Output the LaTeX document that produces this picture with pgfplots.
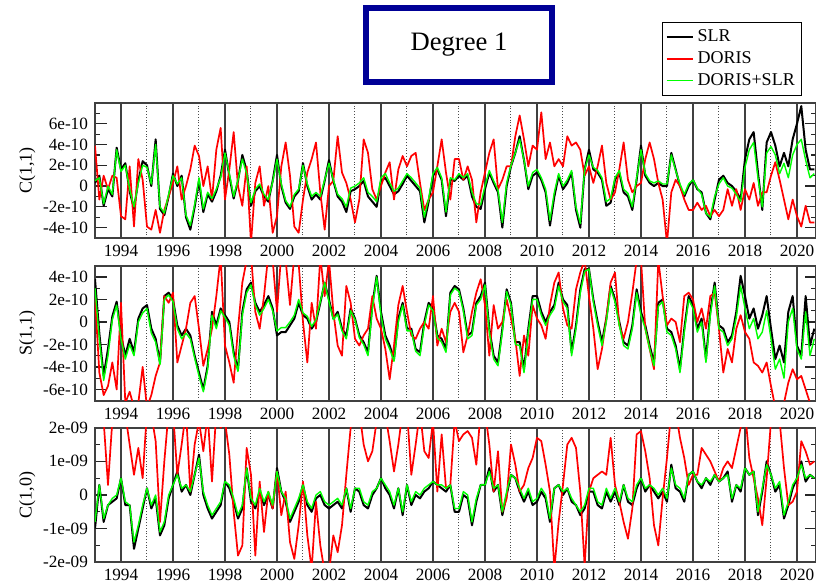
\documentclass[border=0pt]{standalone}
\usepackage{pgfplots}
\pgfplotsset{compat=1.18}
\usepackage{pgfplotstable}
\usepackage{fontspec}
\setmainfont{Liberation Serif}
\definecolor{navybox}{RGB}{0,0,150}
\definecolor{lgreen}{RGB}{0,255,0}

% Panel 1: C(1,1), units 1e-11
\pgfplotstableread[row sep=\\]{y\\
3\\10\\-19\\-3\\-10\\37\\
16\\22\\-5\\-22\\5\\24\\
20\\0\\45\\-22\\-28\\-10\\
12\\0\\10\\-30\\-42\\-20\\
5\\-25\\-8\\-15\\-5\\10\\
35\\10\\-12\\5\\30\\15\\
-19\\-5\\0\\-10\\-15\\5\\
30\\0\\-16\\-22\\-10\\-5\\
22\\0\\-13\\-8\\-13\\5\\
25\\5\\-10\\-15\\-25\\-5\\
-3\\0\\5\\-10\\-15\\-20\\
5\\8\\0\\-8\\-5\\2\\
10\\5\\0\\-5\\-35\\-15\\
10\\16\\6\\-29\\6\\5\\
10\\6\\10\\-10\\-20\\-22\\
-3\\13\\3\\-6\\-40\\0\\
19\\32\\48\\25\\-3\\10\\
13\\6\\-6\\-38\\-10\\10\\
-3\\3\\13\\-23\\-40\\16\\
35\\16\\13\\6\\-19\\-16\\
6\\13\\-6\\-10\\-23\\6\\
39\\10\\3\\0\\3\\0\\
0\\32\\16\\0\\-10\\0\\
6\\-3\\-6\\-26\\-32\\-13\\
6\\10\\3\\0\\-5\\-13\\
26\\45\\52\\13\\-23\\42\\
52\\39\\19\\32\\19\\45\\
60\\77\\35\\16\\16\\
}\pAslr
\pgfplotstableread[row sep=\\]{y\\
39\\-13\\10\\-3\\10\\8\\
-29\\-32\\19\\-39\\26\\6\\
-39\\-42\\-23\\-45\\-23\\-10\\
3\\19\\-13\\0\\16\\39\\
29\\0\\19\\-13\\35\\56\\
-13\\16\\52\\0\\-19\\19\\
-55\\3\\19\\-19\\0\\-45\\
-29\\19\\42\\10\\-39\\-45\\
-13\\13\\26\\42\\-6\\-42\\
0\\5\\48\\13\\3\\-13\\
-35\\-13\\45\\32\\-3\\-13\\
0\\13\\23\\-13\\16\\29\\
19\\29\\32\\3\\-23\\-13\\
-6\\19\\45\\13\\-13\\26\\
26\\6\\19\\6\\-35\\-6\\
13\\32\\45\\-3\\6\\19\\
19\\48\\68\\45\\19\\39\\
35\\71\\26\\42\\19\\26\\
19\\48\\39\\42\\35\\10\\
19\\3\\19\\39\\3\\-13\\
-6\\16\\42\\6\\-6\\0\\
3\\26\\42\\26\\3\\-13\\
-55\\-6\\6\\0\\-13\\-23\\
-23\\-16\\-23\\-19\\-29\\-23\\
-29\\-23\\-3\\-19\\-3\\-23\\
-3\\-13\\3\\-19\\-6\\-6\\
10\\23\\6\\-13\\-32\\-13\\
-29\\-39\\-19\\-35\\-35\\
}\pAdor
\pgfplotstableread[row sep=\\]{y\\
5\\8\\-17\\0\\-8\\35\\
14\\20\\-3\\-20\\3\\20\\
18\\2\\40\\-20\\-26\\-8\\
10\\2\\8\\-28\\-38\\-18\\
8\\-22\\-6\\-12\\-3\\8\\
32\\12\\-10\\6\\26\\12\\
-16\\-3\\2\\-8\\-13\\4\\
26\\2\\-14\\-20\\-8\\-3\\
20\\2\\-10\\-6\\-10\\6\\
22\\6\\-8\\-12\\-20\\-2\\
0\\3\\8\\-6\\-10\\-15\\
8\\12\\3\\-5\\-2\\5\\
12\\8\\3\\-2\\-30\\-12\\
12\\18\\8\\-25\\8\\6\\
12\\8\\12\\-6\\-17\\-18\\
0\\15\\5\\-4\\-35\\3\\
20\\32\\45\\25\\0\\13\\
16\\8\\-3\\-33\\-6\\12\\
0\\6\\15\\-20\\-36\\16\\
30\\18\\15\\8\\-15\\-12\\
8\\15\\-3\\-7\\-20\\8\\
35\\12\\5\\3\\5\\2\\
2\\30\\15\\2\\-8\\2\\
6\\-2\\-8\\-26\\-30\\-10\\
2\\8\\0\\-2\\-8\\-15\\
18\\35\\42\\8\\-20\\32\\
38\\30\\12\\22\\8\\30\\
40\\45\\25\\8\\12\\
}\pAcomb

% Panel 2: S(1,1), units 1e-11
\pgfplotstableread[row sep=\\]{y\\
38\\-10\\-48\\-24\\5\\18\\
-12\\-30\\-15\\-27\\3\\12\\
15\\-6\\-15\\-36\\23\\26\\
20\\-3\\-12\\-6\\-12\\-30\\
-45\\-60\\-39\\9\\-3\\12\\
6\\0\\-27\\-42\\9\\29\\
35\\17\\9\\15\\23\\12\\
-12\\-9\\-9\\-3\\3\\17\\
6\\3\\-6\\0\\17\\35\\
20\\3\\9\\-6\\-12\\12\\
3\\-12\\-18\\-27\\15\\41\\
9\\-12\\-21\\-33\\3\\17\\
-6\\-6\\-24\\-27\\0\\17\\
12\\-12\\-15\\-24\\26\\32\\
29\\12\\-12\\-9\\17\\23\\
35\\-6\\-30\\-36\\-6\\29\\
17\\-18\\-18\\-42\\-6\\23\\
23\\9\\0\\9\\15\\35\\
20\\15\\-27\\-3\\29\\47\\
47\\20\\0\\-18\\3\\32\\
20\\0\\-18\\-21\\-3\\29\\
9\\-3\\-21\\-36\\17\\20\\
-6\\-9\\-21\\-42\\-6\\23\\
15\\-6\\3\\-33\\9\\35\\
-3\\-6\\-18\\-12\\9\\41\\
23\\3\\12\\-6\\6\\23\\
-6\\-33\\-21\\-36\\9\\23\\
-21\\-30\\23\\-21\\-6\\
}\pBslr
\pgfplotstableread[row sep=\\]{y\\
23\\-45\\-65\\-57\\-36\\-60\\
17\\-72\\-62\\-76\\-72\\-40\\
-76\\-65\\-48\\-36\\23\\17\\
26\\-36\\-21\\-6\\17\\23\\
-6\\-39\\-24\\-6\\23\\58\\
-21\\-36\\-54\\-6\\35\\55\\
60\\9\\-6\\23\\60\\55\\
9\\62\\55\\15\\60\\52\\
0\\-36\\17\\-6\\58\\23\\
55\\9\\-21\\-30\\32\\17\\
-15\\-21\\-12\\-6\\23\\3\\
-6\\-24\\-51\\-21\\15\\32\\
9\\-12\\-15\\-6\\0\\-6\\
23\\-21\\-6\\-18\\9\\17\\
9\\-27\\-12\\9\\26\\38\\
15\\-30\\15\\-6\\0\\20\\
3\\-15\\-48\\-12\\-30\\15\\
3\\-3\\-15\\15\\35\\44\\
12\\-3\\-6\\29\\44\\55\\
23\\-6\\-42\\-24\\3\\35\\
44\\-3\\-15\\0\\26\\55\\
56\\-6\\-24\\-42\\55\\23\\
-3\\3\\0\\-18\\23\\26\\
20\\0\\12\\-6\\23\\26\\
-6\\-45\\-24\\-36\\-6\\6\\
-9\\-15\\-36\\-39\\-45\\-36\\
-57\\-76\\-72\\-72\\-54\\-42\\
-51\\-48\\-60\\-72\\-76\\
}\pBdor
\pgfplotstableread[row sep=\\]{y\\
30\\-15\\-52\\-30\\2\\15\\
-15\\-33\\-20\\-30\\0\\8\\
12\\-10\\-18\\-38\\20\\24\\
18\\-6\\-15\\-10\\-15\\-32\\
-48\\-62\\-42\\6\\-6\\10\\
4\\-3\\-30\\-44\\6\\26\\
33\\15\\6\\12\\20\\10\\
-8\\-5\\-5\\0\\6\\20\\
8\\5\\-4\\2\\18\\35\\
18\\2\\7\\-8\\-15\\10\\
2\\-14\\-20\\-30\\12\\40\\
6\\-15\\-24\\-35\\0\\15\\
-8\\-8\\-26\\-30\\-3\\15\\
10\\-14\\-18\\-27\\24\\30\\
27\\10\\-15\\-12\\15\\20\\
33\\-9\\-33\\-39\\-9\\27\\
15\\-20\\-21\\-45\\-9\\20\\
20\\6\\-3\\6\\12\\32\\
18\\12\\-30\\-6\\26\\45\\
47\\18\\-3\\-21\\0\\30\\
18\\-3\\-21\\-24\\-6\\26\\
6\\-6\\-24\\-39\\14\\18\\
-9\\-12\\-24\\-45\\-9\\20\\
12\\-9\\0\\-36\\6\\32\\
-6\\-9\\-21\\-15\\4\\32\\
12\\-6\\3\\-15\\-9\\10\\
-15\\-42\\-33\\-50\\0\\12\\
-24\\-33\\9\\-30\\-15\\
}\pBcomb

% Panel 3: C(1,0), units 1e-10
\pgfplotstableread[row sep=\\]{y\\
-10\\3\\-8\\-3\\-2\\-1\\
5\\-3\\-3\\-16\\-10\\-4\\
2\\-4\\-1\\-12\\-9\\-1\\
3\\7\\1\\3\\0\\6\\
12\\0\\-4\\-7\\-5\\-3\\
4\\2\\-2\\-7\\-4\\8\\
-2\\-4\\1\\-3\\0\\-4\\
8\\1\\-2\\-8\\-5\\-2\\
3\\-3\\-5\\-1\\0\\-3\\
-4\\-3\\-2\\-4\\2\\-5\\
2\\1\\-3\\-4\\0\\2\\
5\\2\\0\\-4\\2\\-6\\
3\\-3\\0\\-1\\1\\2\\
4\\3\\2\\1\\3\\-5\\
-5\\0\\-1\\-9\\-2\\3\\
3\\8\\1\\3\\-6\\0\\
6\\5\\1\\-2\\1\\-3\\
-2\\1\\-1\\-8\\2\\3\\
0\\2\\-2\\-3\\-6\\-4\\
1\\1\\-3\\-4\\1\\-2\\
1\\-3\\3\\-2\\-3\\2\\
5\\1\\3\\1\\-1\\1\\
-2\\9\\2\\1\\-2\\6\\
7\\4\\2\\5\\3\\6\\
4\\5\\7\\-2\\3\\1\\
8\\6\\7\\-6\\1\\10\\
6\\1\\3\\-7\\-3\\2\\
5\\10\\4\\6\\5\\
}\pCslr
\pgfplotstableread[row sep=\\]{y\\
25\\25\\22\\3\\22\\25\\
25\\24\\15\\6\\14\\5\\
25\\24\\16\\-8\\10\\25\\
25\\6\\15\\25\\1\\15\\
22\\13\\24\\4\\25\\20\\
22\\12\\-5\\-18\\-15\\14\\
6\\-18\\4\\-11\\1\\-4\\
7\\-6\\1\\-14\\-19\\-9\\
4\\-12\\-22\\-2\\-15\\-23\\
-23\\-12\\-17\\-9\\6\\20\\
25\\25\\15\\10\\13\\22\\
25\\24\\16\\7\\15\\25\\
25\\6\\15\\25\\13\\11\\
22\\1\\18\\2\\3\\22\\
16\\18\\19\\17\\9\\25\\
25\\15\\1\\13\\-5\\-1\\
15\\9\\1\\3\\8\\11\\
17\\16\\9\\1\\-22\\-8\\
3\\15\\17\\14\\1\\-21\\
1\\5\\6\\7\\6\\17\\
3\\-2\\-8\\-13\\-4\\18\\
19\\13\\5\\-9\\-15\\-1\\
11\\25\\25\\17\\11\\3\\
6\\6\\14\\12\\10\\7\\
4\\8\\10\\8\\14\\20\\
25\\11\\5\\-1\\-9\\5\\
22\\25\\22\\8\\-3\\-2\\
1\\16\\13\\9\\10\\
}\pCdor
\pgfplotstableread[row sep=\\]{y\\
-8\\3\\-7\\-3\\-1\\0\\
5\\-2\\-3\\-14\\-9\\-3\\
2\\-3\\0\\-11\\-8\\0\\
3\\6\\2\\3\\1\\6\\
11\\1\\-3\\-6\\-4\\-2\\
4\\3\\-1\\-6\\-3\\8\\
-1\\-3\\2\\-2\\1\\-3\\
7\\1\\-1\\-7\\-4\\-1\\
3\\-2\\-4\\0\\1\\-2\\
-3\\-2\\-1\\-3\\2\\-4\\
2\\2\\-2\\-3\\1\\2\\
5\\3\\1\\-3\\2\\-5\\
3\\-2\\1\\0\\2\\3\\
4\\3\\3\\2\\3\\-4\\
-4\\1\\0\\-8\\-1\\3\\
3\\7\\2\\3\\-5\\1\\
6\\5\\2\\-1\\2\\-2\\
-1\\2\\0\\-7\\2\\3\\
1\\2\\-1\\-3\\-5\\-3\\
2\\2\\-2\\-3\\2\\-1\\
2\\-2\\3\\-1\\-2\\3\\
5\\2\\3\\2\\0\\2\\
-1\\8\\3\\2\\-1\\6\\
7\\4\\3\\5\\4\\6\\
4\\5\\6\\-1\\3\\2\\
8\\6\\7\\-5\\2\\9\\
6\\2\\4\\-6\\-2\\3\\
5\\9\\5\\6\\5\\
}\pCcomb

\pgfplotsset{
  panel/.style={
    scale only axis, width=360.75pt, height=67.5pt,
    anchor=south west,
    xmin=1993, xmax=2020.75,
    xtick={1994,1996,...,2020},
    minor xtick={1993,1995,...,2019},
    xmajorgrids, xminorgrids,
    major grid style={black!75, line width=0.75pt},
    minor grid style={black!70, densely dotted, line width=0.5pt},
    xtick style={draw=none},
    axis line style={black!75, line width=1pt},
    tick align=inside,
    major tick length=6pt, minor tick length=2.5pt,
    ytick style={black!85, line width=0.6pt},
    tick label style={font=\fontsize{8.6}{10}\selectfont},
    /pgf/number format/assume math mode=true,
    /pgf/number format/1000 sep={},
    every axis y label/.style={at={(axis description cs:-0.094,0.5)}, rotate=90, anchor=center, font=\fontsize{9}{11}\selectfont},
    no markers,
  },
  slr/.style={black, line width=1pt, line join=round},
  dor/.style={red, line width=0.85pt, line join=round},
  comb/.style={lgreen, line width=0.7pt, line join=round},
}

\begin{document}
\begin{tikzpicture}
\useasboundingbox (0,0) rectangle (408pt,292.5pt);
\clip (0,0) rectangle (408pt,292.5pt);
\node[draw=navybox, line width=3pt, minimum width=93pt, minimum height=37pt, inner sep=0pt, font=\fontsize{13.3}{16}\selectfont] at (229.5pt,270pt) {Degree 1};

\begin{axis}[panel, at={(47.5pt,173.5pt)},
  ymin=-50, ymax=80,
  ytick={-40,-20,...,60}, yticklabels={-4e-10,-2e-10,0,2e-10,4e-10,6e-10},
  minor ytick={-30,-10,...,70},
  ylabel={C(1,1)},
  legend style={at={(0.786,1.6)}, anchor=north west, draw=black, line width=0.5pt,
    font=\fontsize{9}{11}\selectfont, inner sep=1.5pt, row sep=-0.5pt},
  legend cell align=left,
  legend image code/.code={\draw[#1] (0pt,0pt) -- (13pt,0pt);},
]
\addplot[slr] table[x expr=1993+\coordindex/6, y=y]{\pAslr};
\addlegendentry{SLR}
\addplot[dor] table[x expr=1993+\coordindex/6, y=y]{\pAdor};
\addlegendentry{DORIS}
\addplot[comb] table[x expr=1993+\coordindex/6, y=y]{\pAcomb};
\addlegendentry{DORIS+SLR}
\end{axis}

\begin{axis}[panel, at={(47.5pt,92.15pt)},
  ymin=-70, ymax=50,
  ytick={-60,-40,...,40}, yticklabels={-6e-10,-4e-10,-2e-10,0,2e-10,4e-10},
  minor ytick={-50,-30,...,30},
  ylabel={S(1,1)},
]
\addplot[slr] table[x expr=1993+\coordindex/6, y=y]{\pBslr};
\addplot[dor] table[x expr=1993+\coordindex/6, y=y]{\pBdor};
\addplot[comb] table[x expr=1993+\coordindex/6, y=y]{\pBcomb};
\end{axis}

\begin{axis}[panel, at={(47.5pt,11.35pt)}, height=67.3pt,
  ymin=-20, ymax=20,
  ytick={-20,-10,0,10,20}, yticklabels={-2e-09,-1e-09,0,1e-09,2e-09},
  minor ytick={-15,-5,5,15},
  ylabel={C(1,0)},
]
\addplot[slr] table[x expr=1993+\coordindex/6, y=y]{\pCslr};
\addplot[dor] table[x expr=1993+\coordindex/6, y=y]{\pCdor};
\addplot[comb] table[x expr=1993+\coordindex/6, y=y]{\pCcomb};
\end{axis}
\end{tikzpicture}
\end{document}
